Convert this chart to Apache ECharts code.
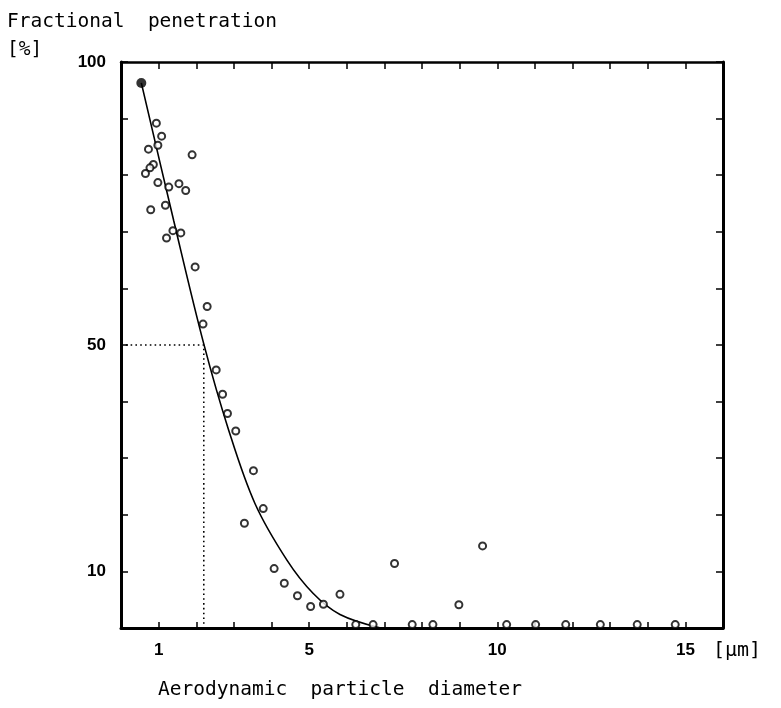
<!DOCTYPE html>
<html>
<head>
<meta charset="utf-8">
<script src="https://cdn.jsdelivr.net/npm/echarts@6/dist/echarts.min.js"></script>
<style>html,body{margin:0;padding:0;background:#fff}#c{width:781px;height:708px}</style>
</head>
<body>
<div id="c"></div>
<script>
// ---- data ----
var xTickLabels = [1, 5, 10, 15];
var yTickLabels = [10, 50, 100];

var openX = [0.94,1.08,0.73,0.98,1.89,0.86,0.77,0.65,0.98,1.27,1.54,1.72,1.18,0.79,1.38,1.59,1.21,1.97,
             2.29,2.18,2.53,2.70,2.83,3.05,3.52,3.78,3.28,4.07,4.34,4.69,5.04,5.38,5.82,7.27,8.98,9.61,
             6.24,6.70,7.74,8.29,10.25,11.02,11.82,12.74,13.72,14.73];
var openY = [89.2,86.9,84.6,85.3,83.6,81.9,81.3,80.3,78.7,77.9,78.5,77.3,74.7,73.9,70.2,69.8,68.9,63.8,
             56.8,53.7,45.6,41.3,37.9,34.8,27.8,21.1,18.5,10.5,7.9,5.7,3.8,4.2,5.95,11.4,4.1,14.5,
             0.6,0.6,0.6,0.6,0.6,0.6,0.6,0.6,0.6,0.6];

var filledX = [0.54];
var filledY = [96.3];

var curveX = [0.54,1.4,2.2,2.86,3.56,4.41,5.11,5.82,6.9];
var curveY = [96.3,72,50.2,35,22,12,6.1,2.4,0];

var refX = [0, 2.2, 2.2];
var refY = [50, 50, 0];

function zip(a, b) { return a.map(function (v, i) { return [v, b[i]]; }); }

var chart = echarts.init(document.getElementById('c'), null, {renderer: 'canvas'});
var tickFont = {fontFamily: 'Liberation Sans', fontWeight: 'bold', fontSize: 17, color: '#000'};
var lbl = '"DejaVu Sans Mono", monospace';

chart.setOption({
  backgroundColor: '#fff',
  animation: false,
  grid: {left: 121, right: 58, top: 62, bottom: 80, containLabel: false},
  xAxis: [{
    type: 'value', min: 0, max: 16, interval: 1, position: 'bottom',
    axisLine: {show: true, onZero: false, lineStyle: {color: '#000', width: 3}},
    axisTick: {show: true, inside: true, length: 6, lineStyle: {color: '#000', width: 1.5}},
    axisLabel: Object.assign({margin: 14, formatter: function (v) {
      return xTickLabels.indexOf(v) >= 0 ? String(v) : '';
    }}, tickFont),
    splitLine: {show: false}
  }, {
    type: 'value', min: 0, max: 16, interval: 1, position: 'top',
    axisLine: {show: true, onZero: false, lineStyle: {color: '#000', width: 2.5}},
    axisTick: {show: true, inside: true, length: 7, lineStyle: {color: '#000', width: 1.5}},
    axisLabel: {show: false}, splitLine: {show: false}
  }],
  yAxis: [{
    type: 'value', min: 0, max: 100, interval: 10, position: 'left',
    axisLine: {show: true, onZero: false, lineStyle: {color: '#000', width: 3}},
    axisTick: {show: true, inside: true, length: 7, lineStyle: {color: '#000', width: 1.5}},
    axisLabel: Object.assign({margin: 15, formatter: function (v) {
      return yTickLabels.indexOf(v) >= 0 ? String(v) : '';
    }}, tickFont),
    splitLine: {show: false}
  }, {
    type: 'value', min: 0, max: 100, interval: 10, position: 'right',
    axisLine: {show: true, onZero: false, lineStyle: {color: '#000', width: 3}},
    axisTick: {show: true, inside: true, length: 7, lineStyle: {color: '#000', width: 1.5}},
    axisLabel: {show: false}, splitLine: {show: false}
  }],
  series: [{
    type: 'line', data: zip(refX, refY), showSymbol: false, symbol: 'none',
    lineStyle: {color: '#000', width: 1.6, type: [1.6, 3.2]}, z: 1
  }, {
    type: 'line', data: zip(curveX, curveY), smooth: 0.35,
    showSymbol: false, symbol: 'none', lineStyle: {color: '#000', width: 1.6}, z: 2
  }, {
    type: 'scatter', data: zip(openX, openY), symbol: 'emptyCircle', symbolSize: 7,
    itemStyle: {color: '#000', borderColor: '#000', borderWidth: 2.2}, clip: false, z: 3
  }, {
    type: 'scatter', data: zip(filledX, filledY), symbol: 'circle', symbolSize: 10,
    itemStyle: {color: '#000'}, clip: false, z: 4
  }],
  graphic: [
    {type: 'text', left: 7, top: 12, style: {text: 'Fractional  penetration', font: '19.5px ' + lbl, fill: '#000'}},
    {type: 'text', left: 7, top: 40, style: {text: '[%]', font: '19.5px ' + lbl, fill: '#000'}},
    {type: 'text', left: 713, top: 641, style: {text: '[µm]', font: '20px ' + lbl, fill: '#000'}},
    {type: 'text', left: 158, top: 680, style: {text: 'Aerodynamic  particle  diameter', font: '19.5px ' + lbl, fill: '#000'}}
  ]
});
</script>
</body>
</html>
